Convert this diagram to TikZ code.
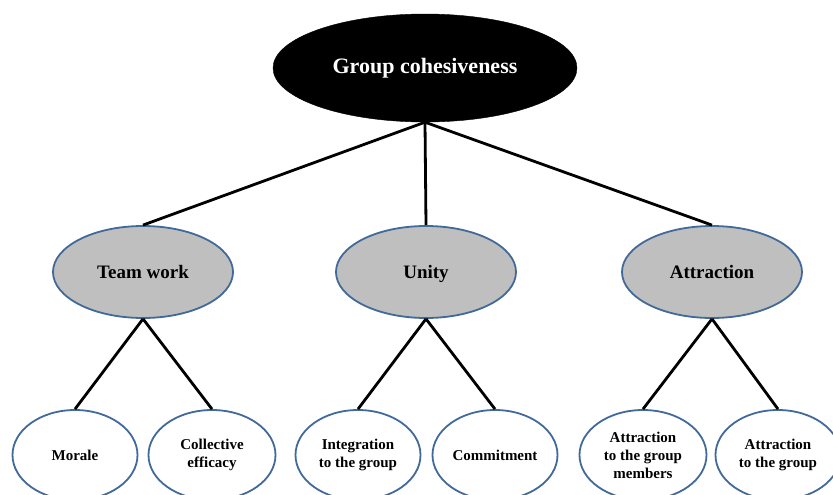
\documentclass[tikz,border=0pt]{standalone}
\usepackage{fontspec}
\setmainfont{Liberation Serif}
\usetikzlibrary{shapes.geometric}
\definecolor{eblue}{HTML}{41699A}
\definecolor{egray}{HTML}{BFBFBF}
\begin{document}
\begin{tikzpicture}[x=1pt,y=-1pt,
 topnode/.style={ellipse, fill=black, draw=black, minimum width=304pt, minimum height=108pt, inner sep=0pt, text=white, text height=16pt, text depth=5pt, font=\fontsize{22}{26}\selectfont\bfseries},
 midnode/.style={ellipse, fill=egray, draw=eblue, line width=1.8pt, minimum width=180pt, minimum height=92pt, inner sep=0pt, text height=16pt, text depth=4pt, font=\fontsize{19}{22}\selectfont\bfseries},
 leaf/.style={ellipse, fill=white, draw=eblue, line width=1.8pt, minimum width=125pt, minimum height=90pt, inner sep=0pt, align=center, font=\fontsize{15}{18}\selectfont\bfseries},
 link/.style={line width=2.8pt, draw=black}]
\clip (0,0) rectangle (833,495);
\fill[white] (0,0) rectangle (833,495);
\node[topnode] (root) at (425,68) {Group cohesiveness};
\node[midnode] (team) at (143,272) {Team work};
\node[midnode] (unity) at (426,272) {Unity};
\node[midnode] (attr) at (712,272) {Attraction};
\node[leaf] (morale) at (75,455) {Morale};
\node[leaf, minimum width=127pt] (coll) at (212,455) {Collective\\efficacy};
\node[leaf] (integ) at (358,455) {Integration\\to the group};
\node[leaf] (commit) at (495,455) {Commitment};
\node[leaf, minimum width=127pt] (members) at (643,455) {Attraction\\to the group\\members};
\node[leaf] (agroup) at (778,455) {Attraction\\to the group};
\draw[link] (root.south) -- (team.north);
\draw[link] (root.south) -- (unity.north);
\draw[link] (root.south) -- (attr.north);
\draw[link] (team.south) -- (morale.north);
\draw[link] (team.south) -- (coll.north);
\draw[link] (unity.south) -- (integ.north);
\draw[link] (unity.south) -- (commit.north);
\draw[link] (attr.south) -- (members.north);
\draw[link] (attr.south) -- (agroup.north);
\end{tikzpicture}
\end{document}
